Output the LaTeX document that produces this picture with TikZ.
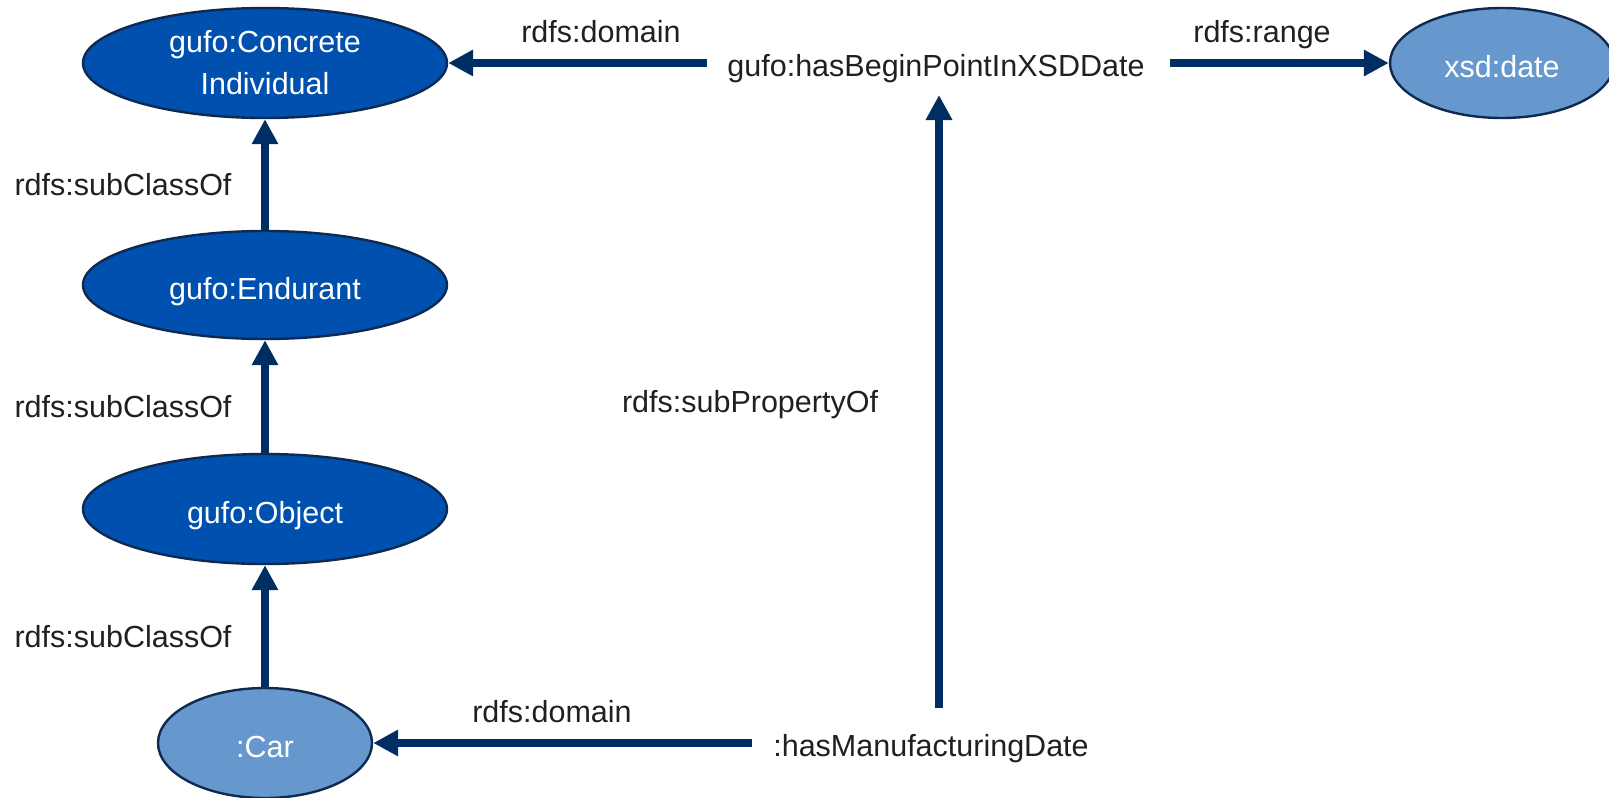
\documentclass[tikz,border=0pt]{standalone}
\usepackage{fontspec}
\setmainfont{Liberation Sans}
\usetikzlibrary{arrows.meta,shapes.geometric,calc}
\definecolor{classdark}{HTML}{0050AF}
\definecolor{classlight}{HTML}{6698CE}
\definecolor{rim}{HTML}{0F2A50}
\definecolor{edgeblue}{HTML}{002E62}
\definecolor{labelgray}{HTML}{231F20}
\begin{document}
\begin{tikzpicture}[x=0.5pt,y=-0.5pt,
  every node/.style={font=\fontsize{15.25pt}{21pt}\selectfont},
  cls/.style={ellipse, draw=rim, line width=1.2pt, inner sep=0pt, text=white, align=center},
  oneline/.style={text height=14pt, text depth=0pt},
  darkcls/.style={cls, fill=classdark},
  lightcls/.style={cls, fill=classlight},
  lbl/.style={inner sep=0pt, anchor=base, text=labelgray},
  rel/.style={draw=edgeblue, line width=4pt, -{Triangle[length=12.5pt,width=12.5pt]}}]
  \useasboundingbox (0,0) rectangle (1609,797);

  % classes
  \node[darkcls, minimum width=182pt, minimum height=55pt] (concrete) at (265,63) {gufo:Concrete\\Individual};
  \node[darkcls, oneline, minimum width=182pt, minimum height=54pt] (endurant) at (265,285) {gufo:Endurant};
  \node[darkcls, oneline, minimum width=182pt, minimum height=55pt] (object) at (265,509) {gufo:Object};
  \node[lightcls, oneline, minimum width=107pt, minimum height=55pt] (car) at (265,743) {:Car};
  \node[lightcls, oneline, minimum width=112pt, minimum height=55pt] (xsd) at (1502,63) {xsd:date};

  % properties
  \node[lbl] (begin) at (936,76) {gufo:hasBeginPointInXSDDate};
  \node[lbl] (manu) at (931,756) {:hasManufacturingDate};

  % relation labels
  \node[lbl] (domtop) at (601,43) {rdfs:domain};
  \node[lbl] (range) at (1262,43) {rdfs:range};
  \node[lbl] (subA) at (123,195) {rdfs:subClassOf};
  \node[lbl] (subB) at (123,417) {rdfs:subClassOf};
  \node[lbl] (subC) at (123,647) {rdfs:subClassOf};
  \node[lbl] (subprop) at (750,412) {rdfs:subPropertyOf};
  \node[lbl] (domlow) at (552,722) {rdfs:domain};

  % relations
  \draw[rel] (endurant) -- (concrete);
  \draw[rel] (object) -- (endurant);
  \draw[rel] (car) -- (object);
  \draw[rel] ($(begin.base west)+(-20,-13)$) -- (concrete.east);
  \draw[rel] ($(begin.base east)+(25,-13)$) -- (xsd.west);
  \draw[rel] ($(manu.base west)+(-21,-13)$) -- (car.east);
  \draw[rel] ($(manu.base)+(8,-48)$) -- ($(begin.base)+(3,19)$);
\end{tikzpicture}
\end{document}
